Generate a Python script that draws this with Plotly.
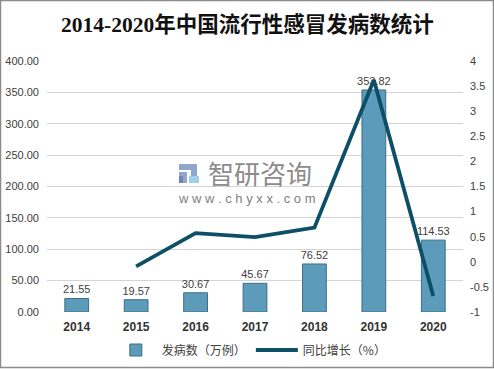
import plotly.graph_objects as go

years = ["2014", "2015", "2016", "2017", "2018", "2019", "2020"]
cases = [21.55, 19.57, 30.67, 45.67, 76.52, 353.82, 114.53]
growth_years = ["2015", "2016", "2017", "2018", "2019", "2020"]
growth = [-0.09, 0.57, 0.49, 0.68, 3.62, -0.68]
right_ticks = [-1, -0.5, 0, 0.5, 1, 1.5, 2, 2.5, 3, 3.5, 4]
right_labels = ["-1", "-0.5", "0", "0.5", "1", "1.5", "2", "2.5", "3", "3.5", "4"]

W, H = 494, 369
ML, MR, MT, MB = 47, 31, 61, 57
PW, PH = W - ML - MR, H - MT - MB

fig = go.Figure()
fig.add_trace(go.Bar(
    x=years, y=cases, name="发病数（万例）",
    marker=dict(color="#5c9bba", line=dict(color="#3d6e84", width=1)),
    width=0.4,
    text=[f"{v:.2f}" for v in cases], textposition="outside",
    constraintext="none",
    textfont=dict(size=11, color="#404040", family="Liberation Sans, Arial"),
    cliponaxis=False, yaxis="y",
))
fig.add_trace(go.Scatter(
    x=growth_years, y=growth, name="同比增长（%）", mode="lines",
    line=dict(color="#0c4f66", width=3.8), yaxis="y2",
))

fig.update_layout(
    width=W, height=H,
    margin=dict(l=ML, r=MR, t=MT, b=MB, pad=0, autoexpand=False),
    paper_bgcolor="white", plot_bgcolor="white",
    font=dict(family="Liberation Sans, Noto Sans CJK SC", color="#404040", size=11),
    showlegend=True,
    legend=dict(orientation="h", x=0.49, xanchor="center", y=-38 / PH, yanchor="middle",
                font=dict(size=12, color="#404040", family="Noto Sans CJK SC"),
                bgcolor="rgba(0,0,0,0)", itemwidth=42, traceorder="normal"),
    xaxis=dict(type="category", showgrid=False, showline=False, ticks="", automargin=False,
               tickfont=dict(size=12, color="#333333", family="Liberation Sans, Arial", weight="bold"),
               ticklabelstandoff=6),
    yaxis=dict(range=[0, 400], tick0=0, dtick=50, tickformat=".2f", automargin=False,
               showgrid=True, gridcolor="#d4d4d4", gridwidth=1, zeroline=False,
               showline=False, ticks="", ticklabelstandoff=7,
               tickfont=dict(size=11, color="#404040")),
    yaxis2=dict(range=[-1, 4], tickvals=right_ticks, ticktext=right_labels, automargin=False,
                overlaying="y", side="right", showgrid=False, zeroline=False,
                showline=False, ticks="", ticklabelstandoff=6,
                tickfont=dict(size=11, color="#404040")),
    bargap=0.6,
)

# title
fig.add_annotation(text="<b>2014-2020年中国流行性感冒发病数统计</b>",
                   xref="paper", yref="paper", x=(247 - ML) / PW, y=1 + (MT - 25) / PH,
                   xanchor="center", yanchor="middle", showarrow=False,
                   font=dict(family="Liberation Serif, Noto Sans CJK SC", size=21.5, color="#111111"))

# watermark
fig.add_annotation(text="智研咨询", xref="paper", yref="paper",
                   x=(260 - ML) / PW, y=1 - (172 - MT) / PH, showarrow=False,
                   xanchor="center", yanchor="middle",
                   font=dict(size=26, color="#8c8c8c", family="Noto Sans CJK SC"))
fig.add_annotation(text="w w w . c h y x x . c o m", xref="paper", yref="paper",
                   x=(247 - ML) / PW, y=1 - (198 - MT) / PH, showarrow=False,
                   xanchor="center", yanchor="middle",
                   font=dict(size=13, color="#808080", family="Liberation Sans"))

def px(x, y):
    return (x - ML) / PW, 1 - (y - MT) / PH

for (x0, y0, x1, y1, c) in [(179, 164, 197, 170, "#8fa6cf"), (191, 164, 197, 176, "#8fa6cf"),
                            (179, 172, 187, 183, "#8fa6cf"), (189, 176, 199, 183, "#9fd0ea"),
                            (179, 176, 183, 183, "#6f86b8")]:
    a, b = px(x0, y0)
    c2, d = px(x1, y1)
    fig.add_shape(type="rect", xref="paper", yref="paper", x0=a, y0=d, x1=c2, y1=b,
                  fillcolor=c, line=dict(width=0), layer="below")

# outer border
fig.add_shape(type="rect", xref="paper", yref="paper",
              x0=(-ML + 0.5) / PW, x1=(PW + MR - 0.5) / PW,
              y0=(-MB + 1.5) / PH, y1=(PH + MT - 0.5) / PH,
              fillcolor="rgba(0,0,0,0)",
              line=dict(color="#8c8c8c", width=1.5), layer="above")

fig.write_html("out.html", config={"displayModeBar": False},
               post_script="document.body.style.margin='0';document.body.style.overflow='hidden';")
